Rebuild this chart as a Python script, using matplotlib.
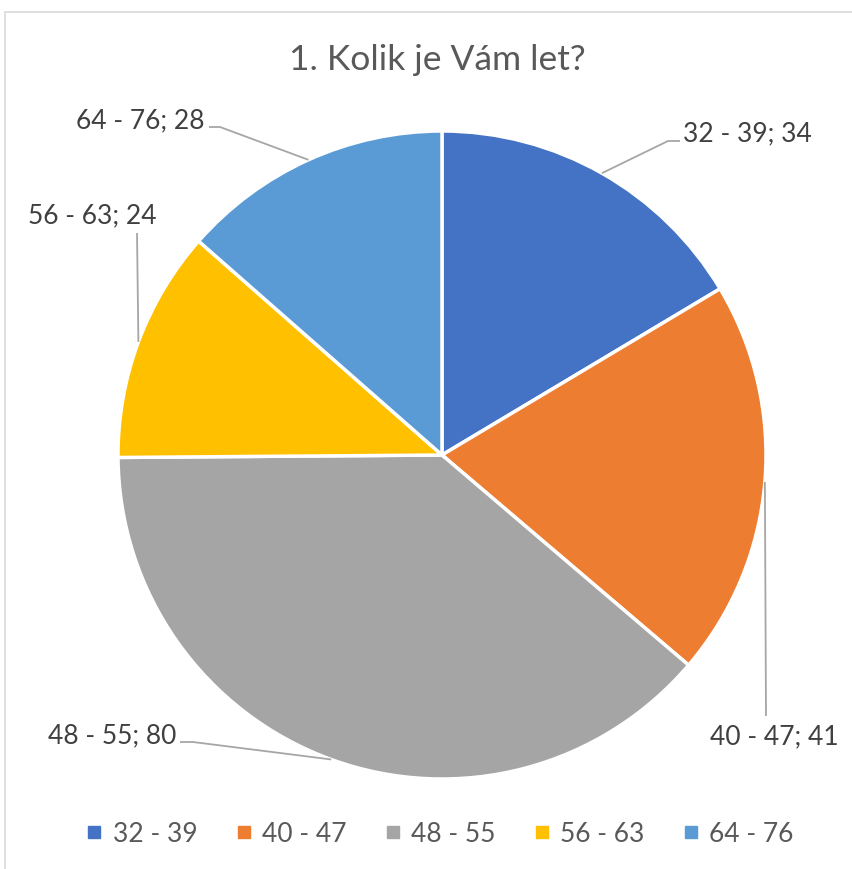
import matplotlib
matplotlib.use('Agg')
import matplotlib.pyplot as plt
from matplotlib.patches import Rectangle
from matplotlib.lines import Line2D
import numpy as np

plt.rcParams['font.family'] = ['Lato', 'DejaVu Sans']

W, H = 852, 870

kategorie = ['32 - 39', '40 - 47', '48 - 55', '56 - 63', '64 - 76']
pocty = [34, 41, 80, 24, 28]
barvy = ['#4472C4', '#ED7D31', '#A5A5A5', '#FFC000', '#5B9BD5']
titulek = '1. Kolik je Vám let?'

# rozvrzeni popisku v pixelech (od leveho horniho rohu):
# body vodici cary za okrajem vysece, pozice textu, zarovnani
popisky = [
    ([(668, 142), (680, 142)], (683, 134), 'left'),
    ([(766, 717)], (774, 737), 'center'),
    ([(193, 743), (180, 743)], (176, 736), 'right'),
    ([(137, 234)], (92, 216), 'center'),
    ([(220, 128), (209, 128)], (205, 121), 'right'),
]

STRED = (442, 456)
POLOMER = 324


def py(y):
    # pixel shora -> souradnice grafu
    return H - y


fig = plt.figure(figsize=(W / 100, H / 100), dpi=100)
ax = fig.add_axes([0, 0, 1, 1])

ax.pie(pocty, colors=barvy, startangle=90, counterclock=False,
       center=(STRED[0], py(STRED[1])), radius=POLOMER,
       wedgeprops=dict(edgecolor='white', linewidth=2.5))
ax.set_xlim(0, W)
ax.set_ylim(0, H)
ax.set_aspect('equal')
ax.axis('off')

# ramecek grafu (vpravo a dole oriznuty)
ax.add_patch(Rectangle((5, py(880)), 900, 867, fill=False,
                       edgecolor='#D9D9D9', linewidth=1.2, zorder=0))

ax.text(437, py(60), titulek, ha='center', va='center',
        fontsize=25.5, color='#595959')

celkem = sum(pocty)
uhel = 90.0
for i in range(len(pocty)):
    rozpeti = 360.0 * pocty[i] / celkem
    stred_uhlu = np.radians(uhel - rozpeti / 2)
    uhel -= rozpeti
    ex = STRED[0] + POLOMER * np.cos(stred_uhlu)
    ey = py(STRED[1]) + POLOMER * np.sin(stred_uhlu)
    body, (tx, ty), zarovnani = popisky[i]
    xs = [ex] + [b[0] for b in body]
    ys = [ey] + [py(b[1]) for b in body]
    ax.plot(xs, ys, color='#A6A6A6', linewidth=1.3, solid_capstyle='butt')
    ax.text(tx, py(ty), '{}; {}'.format(kategorie[i], pocty[i]),
            ha=zarovnani, va='center', fontsize=19, color='#404040')

handles = [Line2D([], [], marker='s', linestyle='', color=c, markersize=8)
           for c in barvy]
fig.legend(handles, kategorie, loc='center', bbox_to_anchor=(440 / W, 1 - 835 / H),
           ncol=5, frameon=False, fontsize=19, labelcolor='#595959',
           handlelength=0.6, handletextpad=0.4, columnspacing=1.45)

fig.savefig('out.png', dpi=100)
